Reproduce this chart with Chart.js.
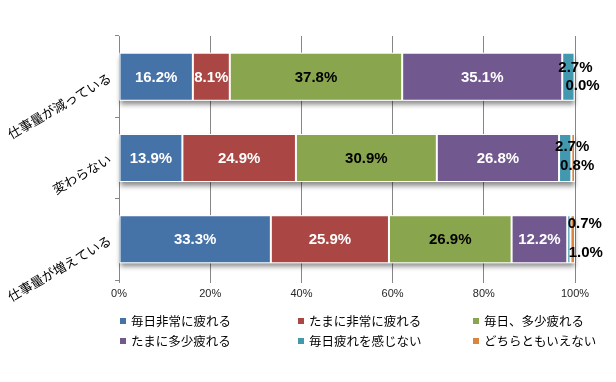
<!DOCTYPE html>
<html><head><meta charset="utf-8">
<script src="https://cdn.jsdelivr.net/npm/chart.js@4/dist/chart.umd.min.js"></script>
<style>
html,body{margin:0;padding:0;background:#fff;}
#wrap{position:relative;width:616px;height:382px;overflow:hidden;}
#c{position:absolute;left:0;top:0;}
.item{position:absolute;white-space:nowrap;font-family:"Noto Sans CJK JP";font-size:12.5px;line-height:16px;color:#000;}
.sw{position:absolute;left:0;top:5px;width:6px;height:6px;}
.tx{position:absolute;left:11px;top:0;}
</style></head>
<body><div id="wrap"><canvas id="c" width="616" height="382"></canvas><div id="legend"></div></div>
<script>
// ---- data ----
const categories = ['仕事量が減っている', '変わらない', '仕事量が増えている'];
const seriesNames = ['毎日非常に疲れる', 'たまに非常に疲れる', '毎日、多少疲れる', 'たまに多少疲れる', '毎日疲れを感じない', 'どちらともいえない'];
const everyDayVeryTired = [16.2, 13.9, 33.3];
const sometimesVeryTired = [8.1, 24.9, 25.9];
const everyDaySomewhatTired = [37.8, 30.9, 26.9];
const sometimesSomewhatTired = [35.1, 26.8, 12.2];
const neverTired = [2.7, 2.7, 0.7];
const undecided = [0.0, 0.8, 1.0];
const xTickValues = [0, 20, 40, 60, 80, 100];

// ---- styles ----
const seriesValues = [everyDayVeryTired, sometimesVeryTired, everyDaySomewhatTired, sometimesSomewhatTired, neverTired, undecided];
const colors = ['#4572A7', '#AA4643', '#89A54E', '#71588F', '#4198AF', '#DB843D'];
const labelColors = ['#fff', '#fff', '#000', '#fff', '#000', '#000'];
// nudges for the small outside labels: [dataset][category] = [dx, dy]
const smallNudge = {
  4: [[7, -10], [7, -12], [16, -16]],
  5: [[8, 8], [4, 7], [13, 13]]
};

const shadowPlugin = {
  id: 'barShadow',
  beforeDatasetsDraw(chart) {
    const ctx = chart.ctx;
    const n = chart.data.datasets.length;
    const first = chart.getDatasetMeta(0).data;
    const last = chart.getDatasetMeta(n - 1).data;
    ctx.save();
    ctx.shadowColor = 'rgba(0,0,0,0.45)';
    ctx.shadowBlur = 5;
    ctx.shadowOffsetY = 4;
    ctx.fillStyle = '#ffffff';
    first.forEach((el, i) => {
      const l = el.base, r = last[i].x;
      const h = el.height;
      ctx.fillRect(l, el.y - h / 2, r - l, h);
    });
    ctx.restore();
  }
};

const labelPlugin = {
  id: 'valueLabels',
  afterDatasetsDraw(chart) {
    const ctx = chart.ctx;
    ctx.save();
    ctx.font = 'bold 15px "Liberation Sans", Arial, sans-serif';
    ctx.textAlign = 'center';
    ctx.textBaseline = 'middle';
    chart.data.datasets.forEach((ds, di) => {
      const meta = chart.getDatasetMeta(di);
      meta.data.forEach((el, j) => {
        const v = ds.data[j];
        const txt = v.toFixed(1) + '%';
        let x = (el.x + el.base) / 2, y = el.y;
        if (smallNudge[di]) { x += smallNudge[di][j][0]; y += smallNudge[di][j][1]; }
        ctx.fillStyle = labelColors[di];
        ctx.fillText(txt, x, y + 1);
      });
    });
    ctx.restore();
  }
};

new Chart(document.getElementById('c'), {
  type: 'bar',
  data: {
    labels: categories,
    datasets: seriesValues.map((d, i) => ({
      label: seriesNames[i],
      data: d,
      backgroundColor: colors[i],
      borderColor: '#ffffff',
      borderWidth: 1,
      borderSkipped: false,
      barPercentage: 0.59,
      categoryPercentage: 1
    }))
  },
  options: {
    indexAxis: 'y',
    responsive: false,
    animation: false,
    layout: { padding: { left: 0, right: 41, top: 36, bottom: 81 } },
    plugins: { legend: { display: false }, tooltip: { enabled: false } },
    scales: {
      x: {
        stacked: true, min: 0, max: 100,
        afterBuildTicks(s) { s.ticks = xTickValues.map(v => ({ value: v })); },
        ticks: { callback: v => v + '%', font: { family: '"Liberation Sans", Arial', size: 11 }, color: '#262626', padding: 4, maxRotation: 0 },
        grid: { color: '#868686', tickLength: 3, drawTicks: true },
        border: { display: false },
        afterFit(s) { s.height = 21; }
      },
      y: {
        stacked: true,
        ticks: { minRotation: 30, maxRotation: 30, font: { family: '"Noto Sans CJK JP"', size: 13 }, color: '#000', padding: 5 },
        grid: { offset: true, drawOnChartArea: false, tickLength: 4, color: '#868686' },
        border: { color: '#868686' },
        afterFit(s) { s.width = 119; }
      }
    }
  },
  plugins: [shadowPlugin, labelPlugin]
});

// legend (html, from the series arrays)
const legend = document.getElementById('legend');
const colX = [120, 298, 473];
const rowY = [313, 333];
seriesNames.forEach((name, i) => {
  const it = document.createElement('div');
  it.className = 'item';
  it.style.left = colX[i % 3] + 'px';
  it.style.top = rowY[Math.floor(i / 3)] + 'px';
  it.innerHTML = '<span class="sw" style="background:' + colors[i] + '"></span><span class="tx"></span>';
  it.querySelector('.tx').textContent = name;
  legend.appendChild(it);
});
</script>
</body></html>
